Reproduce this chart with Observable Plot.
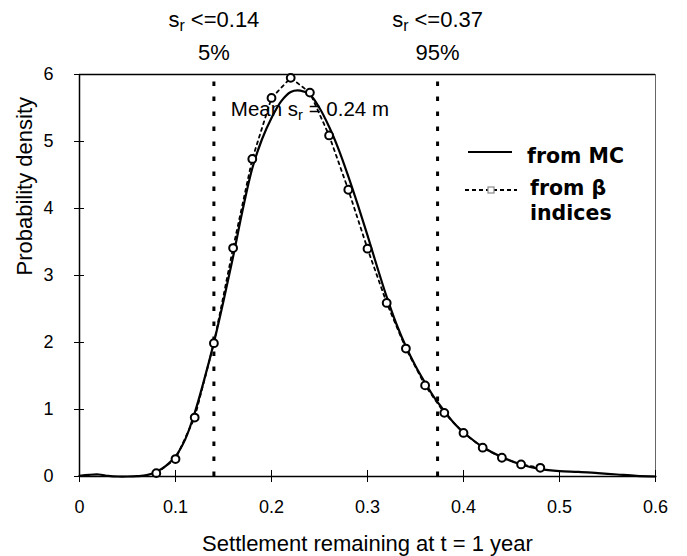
<!DOCTYPE html>
<html>
<head>
<meta charset="utf-8">
<script src="https://cdn.jsdelivr.net/npm/d3@7"></script>
<script src="https://cdn.jsdelivr.net/npm/@observablehq/plot@0.6"></script>
<style>
  body { margin: 0; background: #fff; }
  #chart { width: 687px; height: 556px; }
</style>
</head>
<body>
<div id="chart"></div>
<script>
// Monte Carlo density (solid line)
const mcX = [0.00, 0.01, 0.02, 0.03, 0.04, 0.05, 0.06, 0.07, 0.08, 0.09,
             0.10, 0.11, 0.12, 0.13, 0.14, 0.15, 0.16, 0.17, 0.18, 0.19,
             0.20, 0.21, 0.22, 0.23, 0.24, 0.25, 0.26, 0.27, 0.28, 0.29,
             0.30, 0.31, 0.32, 0.33, 0.34, 0.35, 0.36, 0.37, 0.38, 0.39,
             0.40, 0.42, 0.44, 0.46, 0.48, 0.50, 0.52, 0.54, 0.56, 0.58, 0.60];
const mcY = [0.01, 0.025, 0.03, 0.01, 0.0, 0.0, 0.005, 0.02, 0.07, 0.16,
             0.30, 0.55, 0.95, 1.45, 2.00, 2.62, 3.28, 3.98, 4.60, 5.03,
             5.35, 5.60, 5.74, 5.76, 5.70, 5.50, 5.22, 4.88, 4.48, 4.05,
             3.60, 3.13, 2.68, 2.28, 1.94, 1.65, 1.40, 1.17, 0.98, 0.80,
             0.66, 0.44, 0.29, 0.18, 0.11, 0.08, 0.07, 0.05, 0.03, 0.01, 0.0];

// Density from beta indices (circles, dashed)
const betaX = [0.08, 0.10, 0.12, 0.14, 0.16, 0.18, 0.20, 0.22, 0.24, 0.26,
               0.28, 0.30, 0.32, 0.34, 0.36, 0.38, 0.40, 0.42, 0.44, 0.46, 0.48];
const betaY = [0.05, 0.26, 0.88, 1.99, 3.41, 4.74, 5.65, 5.95, 5.73, 5.09,
               4.28, 3.40, 2.59, 1.91, 1.36, 0.95, 0.65, 0.43, 0.28, 0.18, 0.13];

// Percentile markers
const pctValues = [0.14, 0.373];
const pctThresholdLabels = ["s_r <=0.14", "s_r <=0.37"];
const pctLabels = ["5%", "95%"];

const meanValue = 0.24;
const meanLabel = "Mean s_r = 0.24 m";

const xTicks = [0, 0.1, 0.2, 0.3, 0.4, 0.5, 0.6];
const xTickLabels = ["0", "0.1", "0.2", "0.3", "0.4", "0.5", "0.6"];
const yTicks = [0, 1, 2, 3, 4, 5, 6];
const yTickLabels = ["0", "1", "2", "3", "4", "5", "6"];

const xTitle = "Settlement remaining at t = 1 year";
const yTitle = "Probability density";
const legendLabels = ["from MC", "from \u03B2", "indices"];

const mc = mcX.map((x, i) => ({x, y: mcY[i]}));
const beta = betaX.map((x, i) => ({x, y: betaY[i]}));

const font = "'Liberation Sans', Arial, Helvetica, sans-serif";

const plot = Plot.plot({
  width: 687,
  height: 556,
  marginLeft: 79,
  marginRight: 32,
  marginTop: 74,
  marginBottom: 80,
  style: {fontFamily: font, fontSize: "18px", background: "#fff", color: "#000", overflow: "visible"},
  x: {domain: [0, 0.6]},
  y: {domain: [0, 6]},
  marks: [
    // frame top & right
    Plot.ruleY([6], {stroke: "#000", strokeWidth: 1.3}),
    Plot.ruleX([0.6], {stroke: "#666", strokeWidth: 1}),
    // percentile dotted lines
    Plot.ruleX(pctValues, {x: d => d, y1: 0, y2: 6, stroke: "#000", strokeWidth: 3, strokeDasharray: "4.5,10.5"}),
    // beta indices dashed line
    Plot.line(beta, {x: "x", y: "y", stroke: "#000", strokeWidth: 1.8, strokeDasharray: "3,4"}),
    // MC solid line
    Plot.line(mc, {x: "x", y: "y", curve: "catmull-rom", stroke: "#000", strokeWidth: 2.2}),
    // circles
    Plot.dot(beta, {x: "x", y: "y", r: 3.9, stroke: "#000", strokeWidth: 2, fill: "#fff"}),
    // axis lines
    Plot.ruleY([0], {stroke: "#000", strokeWidth: 1.5}),
    Plot.ruleX([0], {stroke: "#000", strokeWidth: 1.5}),
    // crossing tick marks
    Plot.ruleX(xTicks, {x: d => d, y1: -0.09, y2: 0.09, stroke: "#000", strokeWidth: 1}),
    Plot.ruleY(yTicks, {y: d => d, x1: -0.0052, x2: 0.0052, stroke: "#000", strokeWidth: 1}),
    // tick labels
    Plot.axisX(xTicks, {tickSize: 0, tickPadding: 24, label: null, fontSize: 18,
      tickFormat: d => xTickLabels[xTicks.indexOf(d)]}),
    Plot.axisY(yTicks, {tickSize: 0, tickPadding: 26, label: null, fontSize: 18,
      tickFormat: d => yTickLabels[yTicks.indexOf(d)]}),
    // axis titles
    Plot.text([xTitle], {text: d => d, frameAnchor: "bottom", lineAnchor: "middle", dy: 67, fontSize: 22}),
    Plot.text([yTitle], {text: d => d, frameAnchor: "left", lineAnchor: "middle", rotate: -90, dx: -55, fontSize: 22}),
    // percentile annotations
    Plot.text(pctValues, {x: d => d, text: (d, i) => pctThresholdLabels[i], frameAnchor: "top", lineAnchor: "middle", dy: -55, fontSize: 22}),
    Plot.text(pctValues, {x: d => d, text: (d, i) => pctLabels[i], frameAnchor: "top", lineAnchor: "middle", dy: -22, fontSize: 22}),
    // mean annotation
    Plot.text([meanValue], {x: d => d, text: () => meanLabel, frameAnchor: "top", lineAnchor: "middle", dy: 35, fontSize: 20.5})
  ]
});

// subscript r in s_r
plot.querySelectorAll("text").forEach(t => {
  if (t.children.length === 0 && t.textContent.includes("s_r")) {
    const [pre, post] = t.textContent.split("s_r");
    t.textContent = "";
    t.appendChild(document.createTextNode(pre + "s"));
    const sub = document.createElementNS("http://www.w3.org/2000/svg", "tspan");
    sub.setAttribute("dy", "0.28em");
    sub.setAttribute("font-size", "0.72em");
    sub.textContent = "r";
    t.appendChild(sub);
    const rest = document.createElementNS("http://www.w3.org/2000/svg", "tspan");
    rest.setAttribute("dy", "-0.2em");
    rest.textContent = post;
    t.appendChild(rest);
  }
});

// legend
const svg = d3.select(plot);
const lg = svg.append("g").attr("font-family", "'DejaVu Sans', sans-serif")
  .attr("font-weight", "bold").attr("font-size", 20.5).attr("fill", "#000")
  .attr("text-anchor", "start");
lg.append("line").attr("x1", 468).attr("x2", 512).attr("y1", 152).attr("y2", 152)
  .attr("stroke", "#000").attr("stroke-width", 2.2);
lg.append("text").attr("x", 527).attr("y", 163).text(legendLabels[0]);
lg.append("line").attr("x1", 465).attr("x2", 517).attr("y1", 190).attr("y2", 190)
  .attr("stroke", "#000").attr("stroke-width", 1.8).attr("stroke-dasharray", "4,3");
lg.append("rect").attr("x", 488).attr("y", 187).attr("width", 6).attr("height", 6)
  .attr("fill", "#fff").attr("stroke", "#888").attr("stroke-width", 1.2);
lg.append("text").attr("x", 530).attr("y", 195).text(legendLabels[1]);
lg.append("text").attr("x", 530).attr("y", 220).text(legendLabels[2]);

document.getElementById("chart").appendChild(plot);
</script>
</body>
</html>
